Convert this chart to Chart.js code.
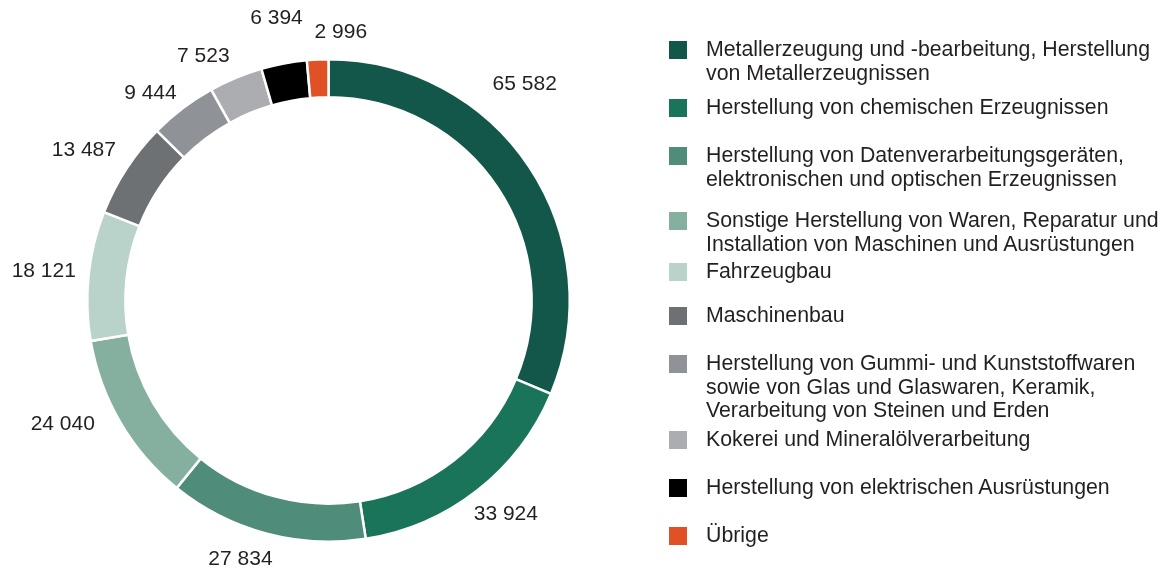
<!DOCTYPE html>
<html>
<head>
<meta charset="utf-8">
<script src="https://cdn.jsdelivr.net/npm/chart.js@4"></script>
<style>
  html, body { margin: 0; padding: 0; background: #fff; }
  #wrap { position: relative; width: 1169px; height: 575px; font-family: "Liberation Sans", Arial, sans-serif; color: #231f20; }
  #chartBox { position: absolute; left: 0; top: 0; width: 656px; height: 575px; }
  #legend { position: absolute; left: 0; top: 0; width: 1169px; height: 575px; pointer-events: none; }
  .item { position: absolute; left: 669px; }
  .sw { position: absolute; left: 0; top: 0; width: 18px; height: 18px; }
  .txt { position: absolute; left: 37px; top: -3px; font-size: 21.3px; line-height: 23.5px; white-space: nowrap; }
</style>
</head>
<body>
<div id="wrap">
  <div id="chartBox"><canvas id="donut" width="656" height="575"></canvas></div>
  <div id="legend"></div>
</div>
<script>
document.addEventListener('DOMContentLoaded', () => {
    const categories = [
        ['Metallerzeugung und -bearbeitung, Herstellung', 'von Metallerzeugnissen'],
        ['Herstellung von chemischen Erzeugnissen'],
        ['Herstellung von Datenverarbeitungsgeräten,', 'elektronischen und optischen Erzeugnissen'],
        ['Sonstige Herstellung von Waren, Reparatur und', 'Installation von Maschinen und Ausrüstungen'],
        ['Fahrzeugbau'],
        ['Maschinenbau'],
        ['Herstellung von Gummi- und Kunststoffwaren', 'sowie von Glas und Glaswaren, Keramik,', 'Verarbeitung von Steinen und Erden'],
        ['Kokerei und Mineralölverarbeitung'],
        ['Herstellung von elektrischen Ausrüstungen'],
        ['Übrige']
    ];
    const values = [65582, 33924, 27834, 24040, 18121, 13487, 9444, 7523, 6394, 2996];
    const colors = ['#12574a', '#1a7459', '#4f8c7a', '#85b09f', '#b9d3ca', '#6e7174', '#8f9297', '#abadb1', '#000000', '#e05226'];

    // legend rows (swatch top in px), label nudges relative to arc midpoint
    const legendTops = [41, 99, 147, 212, 263, 307, 355, 431, 479, 527];
    const labelNudge = [[-38, -61], [4, -8], [-15, -13], [-23, -18], [-5, 0], [-9, 3], [-8, 17], [-17, 15], [0, -6], [25, 13]];

    const fmt = (v) => String(v).replace(/\B(?=(\d{3})+(?!\d))/g, ' ');

    const outsideLabels = {
        id: 'outsideLabels',
        afterDatasetsDraw(chart) {
            const ctx = chart.ctx;
            const meta = chart.getDatasetMeta(0);
            ctx.save();
            ctx.font = '21px "Liberation Sans", Arial, sans-serif';
            ctx.fillStyle = '#231f20';
            ctx.textAlign = 'center';
            ctx.textBaseline = 'middle';
            meta.data.forEach((arc, i) => {
                const { x, y, startAngle, endAngle, outerRadius } = arc.getProps(['x', 'y', 'startAngle', 'endAngle', 'outerRadius'], true);
                const mid = (startAngle + endAngle) / 2;
                const r = outerRadius + 40;
                const lx = x + Math.cos(mid) * r + labelNudge[i][0];
                const ly = y + Math.sin(mid) * r + labelNudge[i][1];
                ctx.fillText(fmt(values[i]), lx, ly);
            });
            ctx.restore();
        }
    };

    const ctx = document.getElementById('donut').getContext('2d');
    new Chart(ctx, {
        type: 'doughnut',
        data: {
            labels: categories.map(c => c.join(' ')),
            datasets: [{
                data: values,
                backgroundColor: colors,
                borderColor: '#ffffff',
                borderWidth: 2.5,
                borderAlign: 'center'
            }]
        },
        options: {
            responsive: false,
            animation: false,
            cutout: '84.2%',
            layout: { padding: { left: 86, right: 85, top: 58, bottom: 32 } },
            plugins: {
                legend: { display: false },
                tooltip: { enabled: false }
            }
        },
        plugins: [outsideLabels]
    });

    const legend = document.getElementById('legend');
    categories.forEach((lines, i) => {
        const item = document.createElement('div');
        item.className = 'item';
        item.style.top = legendTops[i] + 'px';
        const sw = document.createElement('div');
        sw.className = 'sw';
        sw.style.background = colors[i];
        const txt = document.createElement('div');
        txt.className = 'txt';
        txt.innerHTML = lines.join('<br>');
        item.appendChild(sw);
        item.appendChild(txt);
        legend.appendChild(item);
    });
});
</script>
</body>
</html>
